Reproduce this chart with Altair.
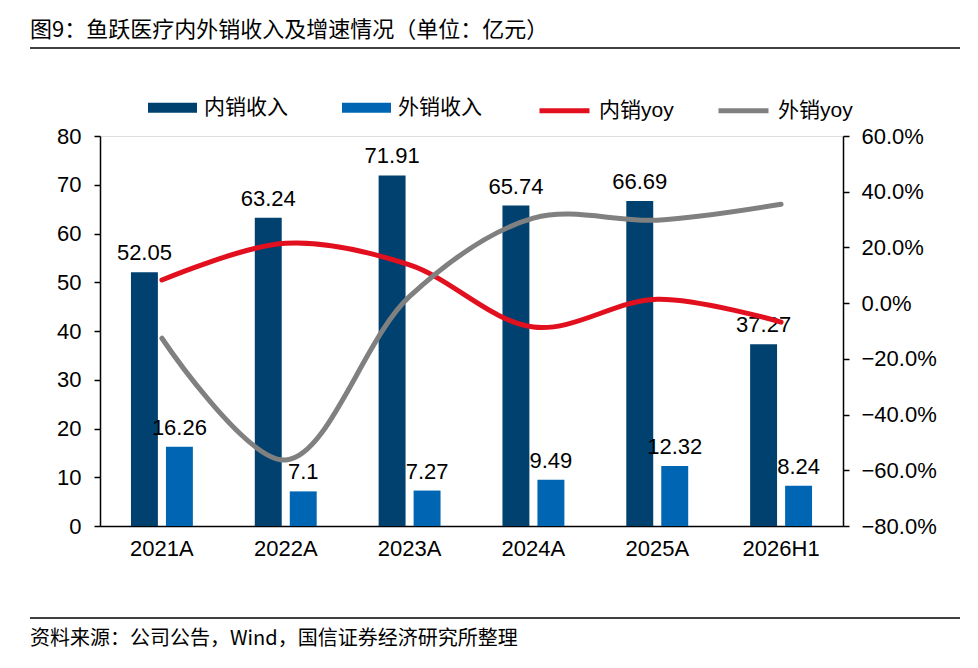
import altair as alt
import pandas as pd

categories = ["2021A", "2022A", "2023A", "2024A", "2025A", "2026H1"]
domestic_rev = [52.05, 63.24, 71.91, 65.74, 66.69, 37.27]
overseas_rev = [16.26, 7.1, 7.27, 9.49, 12.32, 8.24]
domestic_labels = ["52.05", "63.24", "71.91", "65.74", "66.69", "37.27"]
overseas_labels = ["16.26", "7.1", "7.27", "9.49", "12.32", "8.24"]
domestic_yoy = [0.083, 0.215, 0.137, -0.086, 0.014, -0.068]
overseas_yoy = [-0.126, -0.563, 0.024, 0.305, 0.298, 0.355]

bar_series = ["内销收入", "外销收入"]
bar_colors = ["#00416F", "#0066B3"]
line_series = ["内销yoy", "外销yoy"]
line_colors = ["#E2101E", "#808080"]

title_text = "图9：鱼跃医疗内外销收入及增速情况（单位：亿元）"
source_text = "资料来源：公司公告，Wind，国信证券经济研究所整理"

FONT = "Liberation Sans, Noto Sans CJK SC"
CJK = "Noto Sans CJK SC"
FS = 21
AX = 22

bar_rows = []
for c, d, o, dl, ol in zip(categories, domestic_rev, overseas_rev, domestic_labels, overseas_labels):
    bar_rows.append({"cat": c, "series": "内销收入", "value": d, "label": dl})
    bar_rows.append({"cat": c, "series": "外销收入", "value": o, "label": ol})
bars_df = pd.DataFrame(bar_rows)

line_rows = []
for c, d, o in zip(categories, domestic_yoy, overseas_yoy):
    line_rows.append({"cat": c, "series": "内销yoy", "yoy": d})
    line_rows.append({"cat": c, "series": "外销yoy", "yoy": o})
lines_df = pd.DataFrame(line_rows)

x_enc = alt.X(
    "cat:N",
    sort=categories,
    scale=alt.Scale(domain=categories, paddingInner=0.5, paddingOuter=0.25),
    axis=alt.Axis(
        title=None, labelAngle=0, ticks=False, domainColor="black", domainWidth=1.5,
        labelFont=FONT, labelFontSize=AX, labelColor="black", labelPadding=12,
    ),
)
xoff = alt.XOffset(
    "series:N",
    scale=alt.Scale(domain=bar_series, paddingInner=0.23, paddingOuter=0),
)

common_legend = dict(
    title=None,
    orient="none",
    direction="horizontal",
    legendY=-53,
    labelFont=FONT,
    labelFontSize=FS,
    labelColor="black",
    labelOffset=7,
)

fill_enc = alt.Fill(
    "series:N",
    scale=alt.Scale(domain=bar_series, range=bar_colors),
    legend=alt.Legend(
        legendX=48, symbolSize=2401, symbolType="M-1,-0.2H1V0.2H-1Z",
        symbolStrokeWidth=0, symbolOpacity=1, columnPadding=54, **common_legend
    ),
)
stroke_enc = alt.Stroke(
    "series:N",
    scale=alt.Scale(domain=line_series, range=line_colors),
    legend=alt.Legend(
        legendX=437, symbolSize=2500, symbolType="stroke", symbolStrokeWidth=5,
        symbolOpacity=1, columnPadding=34, **common_legend
    ),
)

y_left = alt.Y(
    "value:Q",
    scale=alt.Scale(domain=[0, 80], nice=False),
    axis=alt.Axis(
        title=None, values=list(range(0, 81, 10)), grid=False, domainColor="black",
        domainWidth=1.5, tickColor="black", tickSize=6, tickWidth=1.5, labelFont=FONT,
        labelFontSize=AX, labelColor="black", labelPadding=13,
    ),
)

bars = alt.Chart(bars_df).mark_bar(opacity=1).encode(
    x=x_enc, xOffset=xoff, y=y_left, fill=fill_enc,
)
bar_text = alt.Chart(bars_df).mark_text(
    baseline="bottom", dy=-7, font=FONT, fontSize=22, color="black"
).encode(
    x=alt.X("cat:N", sort=categories), xOffset=xoff, y=alt.Y("value:Q"), text="label:N",
)
bar_layer = alt.layer(bars, bar_text)

lines = alt.Chart(lines_df).mark_line(
    interpolate="catmull-rom", strokeWidth=5, strokeCap="round"
).encode(
    x=alt.X("cat:N", sort=categories),
    y=alt.Y(
        "yoy:Q",
        scale=alt.Scale(domain=[-0.8, 0.6], nice=False),
        axis=alt.Axis(
            title=None, orient="right", values=[-0.8, -0.6, -0.4, -0.2, 0, 0.2, 0.4, 0.6],
            format=".1%", grid=False, domainColor="black", domainWidth=1.5,
            tickColor="black", tickSize=6, tickWidth=1.5, labelFont=FONT,
            labelFontSize=AX, labelColor="black", labelPadding=12,
        ),
    ),
    stroke=stroke_enc,
    detail="series:N",
)

one = pd.DataFrame({"t": [title_text], "s": [source_text]})
title_mark = alt.Chart(one).mark_text(
    align="left", baseline="middle", font=CJK, fontSize=22, color="black"
).encode(x=alt.value(-70), y=alt.value(-106), text="t:N")
source_mark = alt.Chart(one).mark_text(
    align="left", baseline="middle", font=CJK, fontSize=20, color="black"
).encode(x=alt.value(-70), y=alt.value(503), text="s:N")
top_rule = alt.Chart(one).mark_rule(color="black", strokeWidth=1.5).encode(
    x=alt.value(-70), x2=alt.value(860), y=alt.value(-88)
)
bottom_rule = alt.Chart(one).mark_rule(color="black", strokeWidth=1.5).encode(
    x=alt.value(-70), x2=alt.value(860), y=alt.value(482)
)

chart = alt.layer(
    bar_layer, lines, title_mark, source_mark, top_rule, bottom_rule
).resolve_scale(y="independent").properties(
    width=743,
    height=390,
    autosize=alt.AutoSizeParams(type="none"),
    padding={"left": 92, "top": 128, "right": 127, "bottom": 134},
).configure_view(stroke=None).configure(background="white")

chart.save("out.html", embed_options={"renderer": "svg", "actions": False})
